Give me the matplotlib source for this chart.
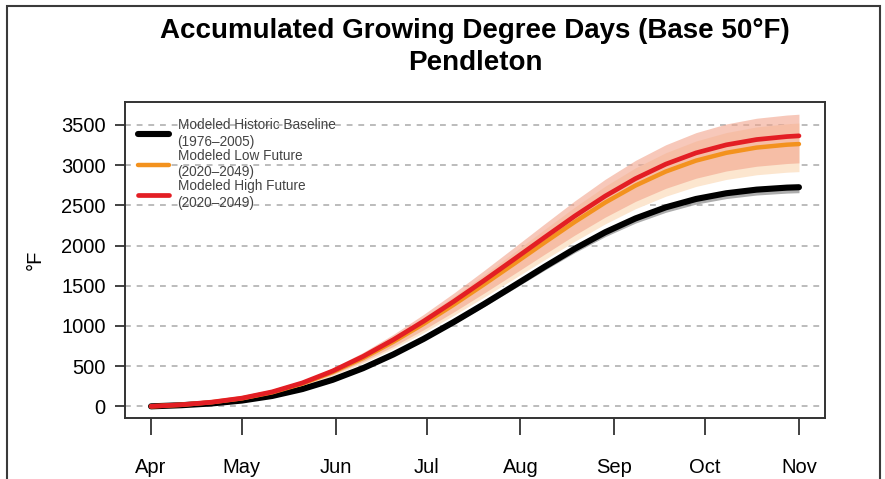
import numpy as np
import matplotlib.pyplot as plt
from matplotlib.patches import Rectangle

plt.rcParams['font.family'] = ['Liberation Sans', 'DejaVu Sans']

# day of year, every 10 days from Apr 1 to Nov 1
days = [91, 101, 111, 121, 131, 141, 151, 161, 171, 181, 191, 201,
        211, 221, 231, 241, 251, 261, 271, 281, 291, 301, 305]

# accumulated GDD
hist = [0, 14, 36, 72, 129, 215, 330, 474, 645, 838, 1049, 1272,
        1503, 1736, 1961, 2165, 2337, 2475, 2579, 2650, 2695, 2720, 2725]
hist_hi = [0, 14, 36, 73, 130, 217, 333, 479, 651, 846, 1059, 1285,
           1518, 1753, 1981, 2187, 2360, 2500, 2605, 2677, 2722, 2747, 2752]
hist_lo = [0, 14, 35, 70, 126, 210, 322, 462, 629, 817, 1023, 1240,
           1465, 1693, 1912, 2111, 2279, 2413, 2515, 2584, 2628, 2652, 2657]

low = [0, 19, 51, 99, 174, 283, 426, 600, 802, 1025, 1265, 1517,
       1776, 2038, 2295, 2535, 2746, 2920, 3056, 3153, 3218, 3254, 3262]
low_hi = [0, 21, 55, 107, 188, 306, 460, 648, 866, 1107, 1366, 1638,
          1918, 2201, 2479, 2738, 2966, 3154, 3300, 3405, 3475, 3514, 3523]
low_lo = [0, 17, 46, 89, 156, 253, 381, 537, 718, 917, 1132, 1358,
          1590, 1824, 2054, 2269, 2458, 2613, 2735, 2822, 2880, 2912, 2919]

high = [0, 20, 52, 102, 180, 292, 440, 620, 828, 1058, 1305, 1565,
        1832, 2102, 2368, 2615, 2832, 3012, 3152, 3252, 3318, 3355, 3364]
high_hi = [0, 22, 56, 110, 194, 315, 475, 670, 894, 1143, 1409, 1690,
           1979, 2270, 2557, 2824, 3059, 3253, 3404, 3512, 3583, 3623, 3633]
high_lo = [0, 18, 47, 92, 162, 263, 396, 558, 745, 952, 1174, 1408,
           1649, 1892, 2131, 2353, 2549, 2711, 2837, 2927, 2986, 3020, 3028]

month_days = [91, 121, 152, 182, 213, 244, 274, 305]
month_labels = ['Apr', 'May', 'Jun', 'Jul', 'Aug', 'Sep', 'Oct', 'Nov']
yticks = [0, 500, 1000, 1500, 2000, 2500, 3000, 3500]

fig = plt.figure(figsize=(8.85, 4.79), dpi=100)
ax = fig.add_axes([125/885, 1-418/479, 700/885, 316/479])

# outer frame around the whole figure
fig.patches.append(Rectangle((7/885, -0.05), 873/885, 1.05 - 6/479, transform=fig.transFigure,
                             fill=False, edgecolor='#3a3a3a', lw=1.5))

for yv in yticks:
    ax.axhline(yv, color='#b0b0b0', lw=1.2, ls=(0, (3.5, 3.5)), zorder=0)

ax.fill_between(days, low_lo, low_hi, color='#fce6cf', lw=0, zorder=1)
ax.fill_between(days, high_lo, high_hi, color='#f2a48c', alpha=0.6, lw=0, zorder=2)
ax.fill_between(days, hist_lo, hist_hi, color='#8a8a8a', alpha=0.7, lw=0, zorder=2)

ax.plot(days, hist, color='black', lw=4.4, solid_capstyle='round', solid_joinstyle='round',
        zorder=3, label='Modeled Historic Baseline\n(1976\u20132005)')
ax.plot(days, low, color='#f3921e', lw=3.2, solid_capstyle='round', solid_joinstyle='round',
        zorder=4, label='Modeled Low Future\n(2020\u20132049)')
ax.plot(days, high, color='#e31e24', lw=3.4, solid_capstyle='round', solid_joinstyle='round',
        zorder=5, label='Modeled High Future\n(2020\u20132049)')

ax.set_xlim(82.4, 313.6)
ax.set_ylim(-145, 3785)
ax.set_xticks(month_days)
ax.set_xticklabels(month_labels)
ax.set_yticks(yticks)
ax.tick_params(axis='y', length=7, width=1.3, pad=7, labelsize=14.5, color='#333333')
ax.tick_params(axis='x', length=12, width=1.3, pad=17, labelsize=14.5, color='#333333')
for s in ax.spines.values():
    s.set_color('#333333')
    s.set_linewidth(1.4)

ax.set_ylabel('\u00b0F', fontsize=14.5, labelpad=12)

leg = ax.legend(loc='upper left', bbox_to_anchor=(0.005, 0.98), frameon=False,
                fontsize=9.8, handlelength=2.3, handletextpad=0.6, labelspacing=0.0,
                borderaxespad=0.3)
for t in leg.get_texts():
    t.set_color('#444444')
    t.set_linespacing(1.25)

fig.text(475/885, 1-31/479, 'Accumulated Growing Degree Days (Base 50\u00b0F)',
         ha='center', va='center', fontsize=20, fontweight='bold')
fig.text(475/885, 1-63/479, 'Pendleton', ha='center', va='center', fontsize=20, fontweight='bold')

fig.savefig('out.png', dpi=100)
